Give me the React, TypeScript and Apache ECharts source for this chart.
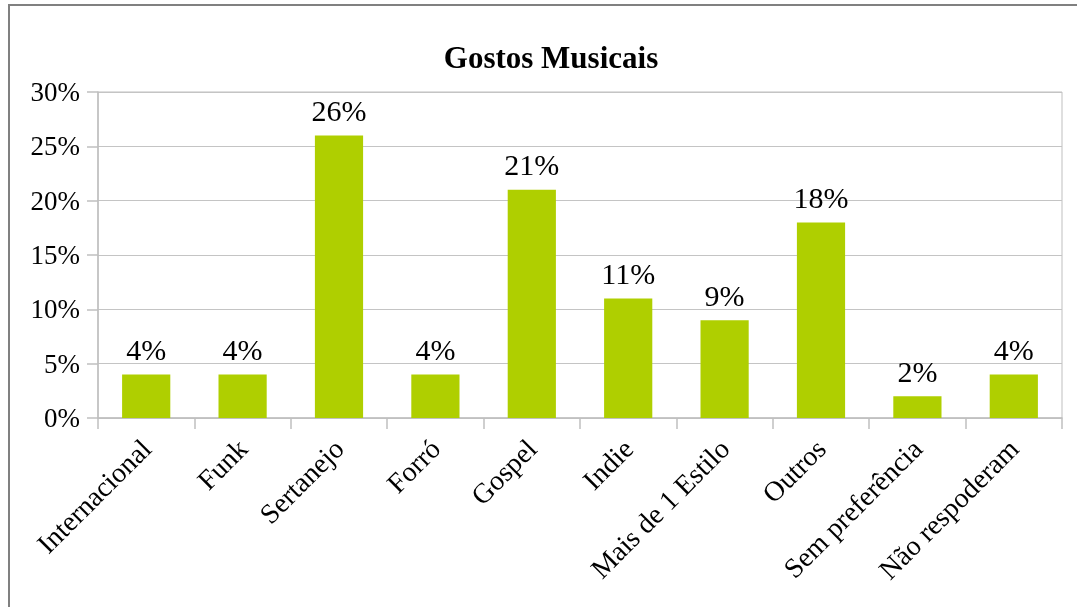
import React, { useEffect, useRef } from "react";
import * as echarts from "echarts";

const categories = [
  "Internacional",
  "Funk",
  "Sertanejo",
  "Forró",
  "Gospel",
  "Indie",
  "Mais de 1 Estilo",
  "Outros",
  "Sem preferência",
  "Não respoderam",
];
const values = [4, 4, 26, 4, 21, 11, 9, 18, 2, 4];
const titleText = "Gostos Musicais";

const FONT = "Liberation Serif";

export default function App() {
  const ref = useRef<HTMLDivElement>(null);
  useEffect(() => {
    if (!ref.current) return;
    const chart = echarts.init(ref.current, null, { renderer: "svg" });
    chart.setOption({
      animation: false,
      title: {
        text: titleText,
        left: 546,
        textAlign: "center",
        top: 37,
        textStyle: { fontFamily: FONT, fontSize: 31, fontWeight: "bold", color: "#000" },
      },
      graphic: [
        {
          type: "rect",
          shape: { x: 9, y: 5, width: 1100, height: 650 },
          style: { fill: "none", stroke: "#808080", lineWidth: 2 },
          silent: true,
        },
      ],
      grid: {
        left: 98,
        right: 15,
        top: 92,
        bottom: 189,
        show: true,
        borderColor: "#bfbfbf",
        borderWidth: 1,
        containLabel: false,
      },
      xAxis: {
        type: "category",
        data: categories,
        axisLine: { lineStyle: { color: "#bfbfbf", width: 1.5 } },
        axisTick: { show: true, length: 11, lineStyle: { color: "#bfbfbf", width: 1.5 } },
        axisLabel: {
          rotate: 45,
          interval: 0,
          margin: 26,
          fontFamily: FONT,
          fontSize: 28,
          color: "#000",
        },
      },
      yAxis: {
        type: "value",
        min: 0,
        max: 30,
        interval: 5,
        axisLine: { show: true, lineStyle: { color: "#bfbfbf", width: 1.5 } },
        axisTick: { show: true, length: 11, lineStyle: { color: "#bfbfbf", width: 1.5 } },
        splitLine: { lineStyle: { color: "#c4c4c4", width: 1 } },
        axisLabel: {
          margin: 18,
          fontFamily: FONT,
          fontSize: 27,
          color: "#000",
          formatter: "{value}%",
        },
      },
      series: [
        {
          type: "bar",
          data: values,
          barWidth: "50%",
          itemStyle: { color: "#afcf00" },
          label: {
            show: true,
            position: "top",
            distance: 10,
            formatter: "{c}%",
            fontFamily: FONT,
            fontSize: 30,
            color: "#000",
          },
        },
      ],
    });
    return () => chart.dispose();
  }, []);
  return (
    <div
      ref={ref}
      style={{ position: "fixed", left: 0, top: 0, width: 1077, height: 607 }}
    />
  );
}
